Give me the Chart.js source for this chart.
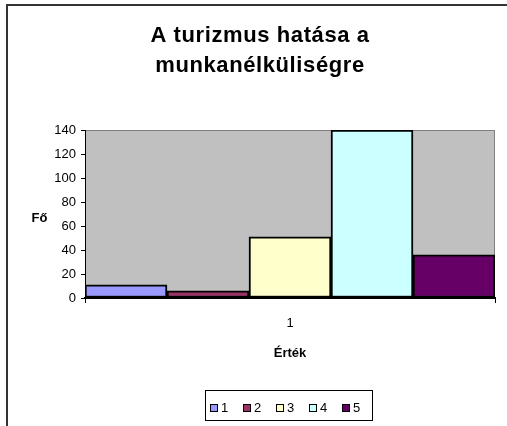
<!DOCTYPE html>
<html>
<head>
<meta charset="utf-8">
<script src="https://cdn.jsdelivr.net/npm/chart.js@4.4.0/dist/chart.umd.min.js"></script>
<style>
  html, body { margin: 0; padding: 0; background: #fff; }
</style>
</head>
<body>
<canvas id="chart" width="507" height="426"></canvas>
<script>
// ========== DATA ==========
const categories = ["1"];
const seriesNames = ["1", "2", "3", "4", "5"];
const seriesValues = [11, 6, 51, 140, 36];
const titleLines = ["A turizmus hatása a", "munkanélküliségre"];
const yTitle = "Fő";
const xTitle = "Érték";
const yMin = 0;
const yMax = 140;
const yStep = 20;

// ========== STYLE ==========
const seriesColors = ["#9999FF", "#993366", "#FFFFCC", "#CCFFFF", "#660066"];
const FONT = '"Liberation Sans", Arial, sans-serif';

Chart.defaults.font.family = FONT;
Chart.defaults.color = "#000";

const datasets = seriesNames.map((name, i) => ({
  label: name,
  data: [seriesValues[i]],
  backgroundColor: seriesColors[i],
  borderColor: "#000",
  borderWidth: 2,
  borderSkipped: false,
  categoryPercentage: 1,
  barPercentage: 1
}));

// frame, plot background, title, axis titles, legend
const excelLook = {
  id: "excelLook",
  beforeDraw(chart) {
    const { ctx, chartArea: a } = chart;
    ctx.save();
    ctx.fillStyle = "#fff";
    ctx.fillRect(0, 0, chart.width, chart.height);
    // outer frame (cut off at right/bottom)
    ctx.strokeStyle = "#333";
    ctx.lineWidth = 2;
    ctx.beginPath();
    ctx.moveTo(7, chart.height);
    ctx.lineTo(7, 5);
    ctx.lineTo(chart.width, 5);
    ctx.stroke();
    // plot area
    ctx.fillStyle = "#C0C0C0";
    ctx.fillRect(a.left, a.top, a.right - a.left, a.bottom - a.top);
    ctx.strokeStyle = "#808080";
    ctx.lineWidth = 1;
    ctx.strokeRect(a.left + 0.5, a.top + 0.5, a.right - a.left - 1, a.bottom - a.top);
    ctx.restore();
  },
  afterDraw(chart) {
    const { ctx } = chart;
    ctx.save();
    ctx.fillStyle = "#000";
    ctx.textAlign = "center";
    ctx.textBaseline = "alphabetic";
    ctx.font = "bold 22px " + FONT;
    ctx.letterSpacing = "0.6px";
    ctx.fillText(titleLines[0], 260, 41.5);
    ctx.fillText(titleLines[1], 260, 72);
    ctx.letterSpacing = "0px";

    ctx.font = "bold 13px " + FONT;
    ctx.textBaseline = "middle";
    ctx.fillText(yTitle, 39.5, 218);
    ctx.fillText(xTitle, 290, 353);

    // legend
    ctx.strokeStyle = "#000";
    ctx.lineWidth = 1;
    ctx.strokeRect(205.5, 390.5, 167, 30);
    ctx.font = "13px " + FONT;
    ctx.textAlign = "left";
    chart.data.datasets.forEach((ds, i) => {
      const x = 210 + i * 33;
      ctx.fillStyle = ds.backgroundColor;
      ctx.fillRect(x, 404, 7, 7);
      ctx.strokeRect(x + 0.5, 404.5, 7, 7);
      ctx.fillStyle = "#000";
      ctx.fillText(ds.label, x + 11, 408.5);
    });
    ctx.restore();
  }
};

new Chart(document.getElementById("chart"), {
  type: "bar",
  data: { labels: categories, datasets },
  plugins: [excelLook],
  options: {
    responsive: false,
    animation: false,
    layout: { padding: { top: 130, left: 45, right: 12, bottom: 0 } },
    plugins: {
      legend: { display: false },
      title: { display: false },
      tooltip: { enabled: false }
    },
    scales: {
      x: {
        offset: true,
        grid: { offset: true, drawOnChartArea: false, tickLength: 5, color: "#000" },
        border: { color: "#000", width: 2 },
        ticks: { font: { size: 13 }, padding: 13 },
        afterFit(scale) { scale.height = 128; }
      },
      y: {
        min: yMin,
        max: yMax,
        grid: { drawOnChartArea: false, tickLength: 4, color: "#000" },
        border: { color: "#000", width: 1 },
        ticks: { stepSize: yStep, font: { size: 13 }, padding: 5 },
        afterFit(scale) { scale.width = 40; }
      }
    }
  }
});
</script>
</body>
</html>
